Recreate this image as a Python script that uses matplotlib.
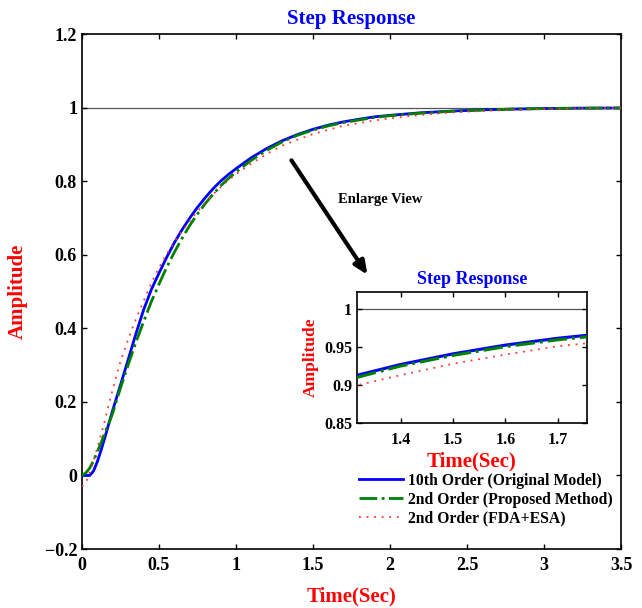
import numpy as np
import matplotlib
matplotlib.use("Agg")
import matplotlib.pyplot as plt

plt.rcParams["font.family"] = ["Liberation Serif", "DejaVu Serif"]
plt.rcParams["font.weight"] = "bold"

# step responses
t = [0, 0.025, 0.05, 0.075, 0.1, 0.125, 0.15, 0.175, 0.2, 0.25, 0.3, 0.35,
     0.4, 0.45, 0.5, 0.55, 0.6, 0.65, 0.7, 0.75, 0.8, 0.85, 0.9, 0.95, 1.0,
     1.1, 1.2, 1.3, 1.4, 1.5, 1.6, 1.7, 1.8, 1.9, 2.0, 2.2, 2.4, 2.6, 2.8,
     3.0, 3.25, 3.5]
y_orig = [0, 0, 0.0, 0.012, 0.038, 0.07, 0.105, 0.142, 0.178, 0.246, 0.315,
          0.385, 0.45, 0.505, 0.55, 0.593, 0.633, 0.668, 0.7, 0.729, 0.755,
          0.779, 0.8, 0.818, 0.834, 0.864, 0.889, 0.910, 0.927, 0.941,
          0.9525, 0.9615, 0.9685, 0.975, 0.979, 0.986, 0.9905, 0.994, 0.996,
          0.9975, 0.9985, 0.999]
y_prop = [0, 0.007, 0.02, 0.04, 0.065, 0.09, 0.118, 0.142, 0.17, 0.238, 0.301,
          0.362, 0.418, 0.472, 0.52, 0.566, 0.607, 0.645, 0.68, 0.711, 0.739,
          0.764, 0.787, 0.807, 0.825, 0.857, 0.884, 0.907, 0.925, 0.939,
          0.9505, 0.9595, 0.9665, 0.9735, 0.978, 0.985, 0.99, 0.9935, 0.996,
          0.9975, 0.9985, 0.999]
y_fda = [-0.03, -0.02, 0.008, 0.04, 0.075, 0.113, 0.152, 0.195, 0.235, 0.31,
         0.37, 0.425, 0.474, 0.523, 0.565, 0.602, 0.635, 0.664, 0.692, 0.718,
         0.742, 0.764, 0.784, 0.802, 0.819, 0.848, 0.874, 0.897, 0.913, 0.928,
         0.94, 0.951, 0.958, 0.965, 0.971, 0.98, 0.987, 0.991, 0.994, 0.996,
         0.998, 0.999]

labels = ["10th Order (Original Model)", "2nd Order (Proposed Method)",
          "2nd Order (FDA+ESA)"]
xticks = [0, 0.5, 1, 1.5, 2, 2.5, 3, 3.5]
xticklabels = ["0", "0.5", "1", "1.5", "2", "2.5", "3", "3.5"]
yticks = [-0.2, 0, 0.2, 0.4, 0.6, 0.8, 1, 1.2]
yticklabels = ["\u22120.2", "0", "0.2", "0.4", "0.6", "0.8", "1", "1.2"]
in_xticks = [1.4, 1.5, 1.6, 1.7]
in_yticks = [0.85, 0.9, 0.95, 1]
in_yticklabels = ["0.85", "0.9", "0.95", "1"]


def draw(ax, lw_main=2.0):
    ax.axhline(1, color="#555555", lw=0.9, zorder=1)
    ax.plot(t, y_orig, "-", color="#0000ff", lw=lw_main, label=labels[0], zorder=3)
    ax.plot(t, y_prop, "-.", color="#008000", lw=lw_main, label=labels[1], zorder=4)
    ax.plot(t, y_fda, color="#ff3333", lw=1.3, dashes=(1, 3.2),
            label=labels[2], zorder=5)
    ax.tick_params(direction="in", top=True, right=True, width=1.0)
    for s in ax.spines.values():
        s.set_linewidth(1.2)


fig = plt.figure(figsize=(6.42, 6.08), dpi=100)
ax = fig.add_axes([0.1277, 0.097, 0.8396, 0.847])
draw(ax)
ax.set_xlim(0, 3.5)
ax.set_ylim(-0.2, 1.2)
ax.set_xticks(xticks)
ax.set_xticklabels(xticklabels, fontsize=13, fontweight="bold")
ax.set_yticks(yticks)
ax.set_yticklabels(yticklabels, fontsize=13, fontweight="bold")
ax.tick_params(axis="x", pad=6)
ax.set_title("Step Response", color="#0000ff", fontsize=15,
             fontweight="bold", pad=7)
ax.set_xlabel("Time(Sec)", color="#ff0000", fontsize=15, fontweight="bold",
              labelpad=9)
ax.set_ylabel("Amplitude", color="#ff0000", fontsize=15, fontweight="bold",
              labelpad=12)

ax.annotate("", xy=(1.864, 0.539), xytext=(1.35, 0.863),
            arrowprops=dict(arrowstyle="-|>,head_length=0.8,head_width=0.35",
                            color="black", lw=3))
ax.text(1.66, 0.749, "Enlarge View", fontsize=10.5, fontweight="bold",
        ha="left", va="center")

leg = ax.legend(loc="upper left", bbox_to_anchor=(0.547, 0.235),
                bbox_transform=fig.transFigure, frameon=False,
                prop=dict(size=11.3, weight="bold"), handlelength=2.8,
                handletextpad=0.35, labelspacing=0.17, borderpad=0)

ins = fig.add_axes([0.556, 0.304, 0.358, 0.2155])
draw(ins, lw_main=2.2)
ins.set_xlim(1.317, 1.755)
ins.set_ylim(0.85, 1.022)
ins.set_xticks(in_xticks)
ins.set_xticklabels([f"{v:g}" for v in in_xticks], fontsize=11.5,
                    fontweight="bold")
ins.set_yticks(in_yticks)
ins.set_yticklabels(in_yticklabels, fontsize=11.5, fontweight="bold")
ins.tick_params(axis="x", pad=6)
ins.set_title("Step Response", color="#0000ff", fontsize=13,
              fontweight="bold", pad=6)
ins.set_xlabel("Time(Sec)", color="#ff0000", fontsize=15, fontweight="bold",
               labelpad=3)
ins.set_ylabel("Amplitude", color="#ff0000", fontsize=12.5, fontweight="bold",
               labelpad=4)

fig.savefig("out.png", dpi=100)
